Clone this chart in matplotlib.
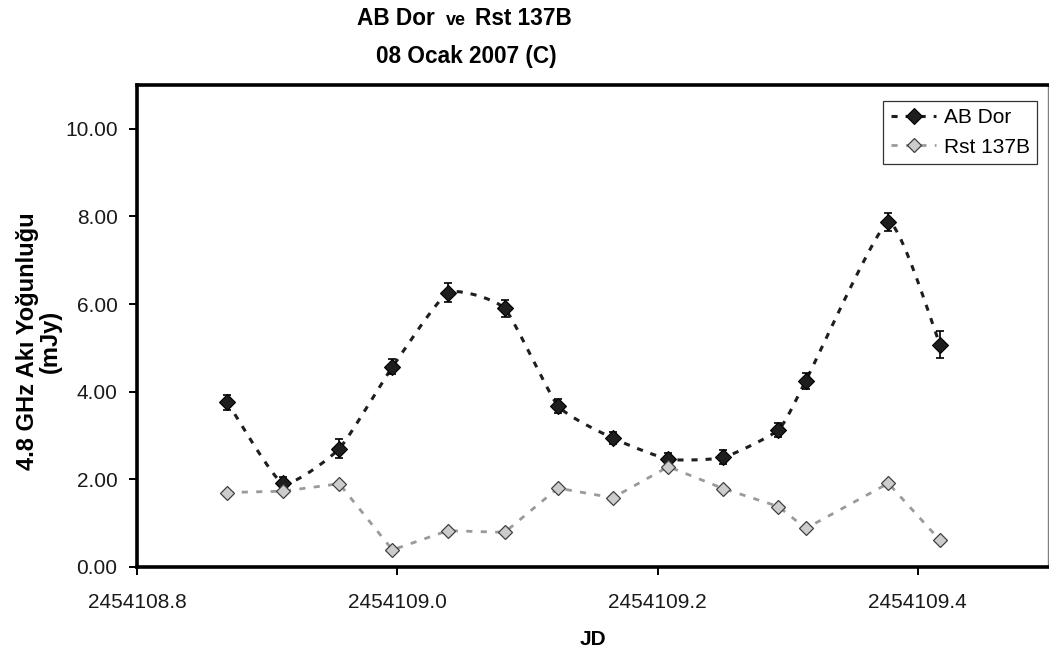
import numpy as np
import matplotlib.pyplot as plt
from matplotlib.lines import Line2D

# Julian dates of the scans
jd = [2454108.8694, 2454108.9119, 2454108.9554, 2454108.9963, 2454109.0390,
      2454109.0825, 2454109.1234, 2454109.1656, 2454109.2083, 2454109.2505,
      2454109.2929, 2454109.3139, 2454109.3773, 2454109.4170]

# 4.8 GHz flux densities (mJy)
ab_dor = [3.76, 1.91, 2.70, 4.57, 6.26, 5.90, 3.68, 2.94, 2.46, 2.50, 3.13, 4.25, 7.87, 5.07]
ab_dor_err = [0.17, 0.14, 0.22, 0.17, 0.21, 0.20, 0.16, 0.14, 0.14, 0.16, 0.16, 0.18, 0.20, 0.31]
rst137b = [1.70, 1.73, 1.90, 0.39, 0.83, 0.79, 1.80, 1.58, 2.29, 1.79, 1.38, 0.88, 1.91, 0.61]

x_ticks = [2454108.8, 2454109.0, 2454109.2, 2454109.4]
x_tick_labels = ["2454108.8", "2454109.0", "2454109.2", "2454109.4"]
y_ticks = [0, 2, 4, 6, 8, 10]
y_tick_labels = ["0.00", "2.00", "4.00", "6.00", "8.00", "10.00"]

XMIN, XMAX = 2454108.8, 2454109.5
YMIN, YMAX = 0, 11

plt.rcParams['font.family'] = ['Liberation Sans', 'DejaVu Sans']


def smooth_curve(x, y, sx, sy, k=1 / 12, n=40):
    """Lightly smoothed line through the points: cubic Bezier segments whose
    control arms follow the neighbour chord, computed in screen units."""
    x0 = x[0]
    p = np.column_stack([(np.asarray(x) - x0) * sx, np.asarray(y) * sy])
    t = np.linspace(0, 1, n)[:, None]
    pts = []
    for i in range(len(p) - 1):
        a = p[i - 1] if i > 0 else p[i]
        b, c = p[i], p[i + 1]
        d = p[i + 2] if i + 2 < len(p) else p[i + 1]
        c1 = b + (c - a) * k
        c2 = c - (d - b) * k
        seg = ((1 - t) ** 3) * b + 3 * ((1 - t) ** 2) * t * c1 + 3 * (1 - t) * t ** 2 * c2 + t ** 3 * c
        pts.append(seg if i == 0 else seg[1:])
    pts = np.vstack(pts)
    return pts[:, 0] / sx + x0, pts[:, 1] / sy


fig = plt.figure(figsize=(10.49, 6.55), dpi=100)
ax = fig.add_axes([137 / 1049, 1 - 567 / 655, 911 / 1049, 482 / 655])

# pixels per data unit, used for the smoothing
sx = 911 / (XMAX - XMIN)
sy = 482 / (YMAX - YMIN)

dark = '#1e1e1e'
grey_line = '#9a9a9a'
grey_fill = '#cccccc'
dash_dark = (0, (2.0, 2.6))
dash_grey = (0, (2.2, 3.0))

sm_x, sm_y = smooth_curve(jd, ab_dor, sx, sy)
ax.plot(sm_x, sm_y, color=dark, lw=2.2, ls=dash_dark, zorder=2)
ax.errorbar(jd, ab_dor, yerr=ab_dor_err, fmt='none', ecolor='black',
            elinewidth=1.2, capsize=3, capthick=1.2, zorder=3)
ax.plot(jd, ab_dor, ls='none', marker='D', ms=7.8, mfc=dark, mec='black',
        mew=0.8, zorder=4)

ax.plot(jd, rst137b, color=grey_line, lw=2.0, ls=dash_grey, zorder=5)
ax.plot(jd, rst137b, ls='none', marker='D', ms=7.6, mfc=grey_fill, mec='#404040',
        mew=0.9, zorder=6)

ax.set_xlim(XMIN, XMAX)
ax.set_ylim(YMIN, YMAX)
ax.set_xticks(x_ticks)
ax.set_xticklabels(x_tick_labels)
ax.set_yticks(y_ticks)
ax.set_yticklabels(y_tick_labels)
ax.tick_params(axis='both', direction='out', length=6, width=1.4, colors='black',
               labelsize=15, labelcolor='#1a1a1a')
ax.tick_params(axis='x', pad=13)
ax.tick_params(axis='y', pad=8)

for side in ['left', 'top', 'bottom']:
    ax.spines[side].set_linewidth(2.6)
    ax.spines[side].set_color('black')
ax.spines['right'].set_linewidth(1.0)
ax.spines['right'].set_color('#808080')

ax.set_xlabel("JD", fontsize=15, fontweight='bold', labelpad=13)
ax.set_ylabel("4.8 GHz Akı Yoğunluğu\n(mJy)", fontsize=17, fontweight='bold',
              linespacing=1.0)
ax.yaxis.set_label_coords(-0.0825, 0.469)

handles = [
    Line2D([], [], color=dark, lw=2.2, ls=dash_dark, marker='D', ms=7.8,
           mfc=dark, mec='black', mew=0.8),
    Line2D([], [], color=grey_line, lw=2.0, ls=dash_grey, marker='D', ms=7.6,
           mfc=grey_fill, mec='#404040', mew=0.9),
]
leg = ax.legend(handles, ["AB Dor", "Rst 137B"], loc='upper right',
                bbox_to_anchor=(0.988, 0.967), borderaxespad=0, fontsize=15,
                frameon=True, fancybox=False, edgecolor='black', handlelength=2.2,
                handletextpad=0.35, labelspacing=0.5, borderpad=0.35)
leg.get_frame().set_linewidth(0.9)

# two-line title, the small "ve" in between
ty = 1 - 25 / 655
fig.text(435 / 1049, ty, "AB Dor", ha='right', va='baseline', fontsize=16.3,
         fontweight='bold')
fig.text(456 / 1049, ty, "ve", ha='center', va='baseline', fontsize=13,
         fontweight='bold')
fig.text(475 / 1049, ty, "Rst 137B", ha='left', va='baseline', fontsize=16.3,
         fontweight='bold')
fig.text(466 / 1049, 1 - 63 / 655, "08 Ocak 2007 (C)", ha='center', va='baseline',
         fontsize=16.3, fontweight='bold')

fig.savefig("out.png", dpi=100, facecolor='white')
